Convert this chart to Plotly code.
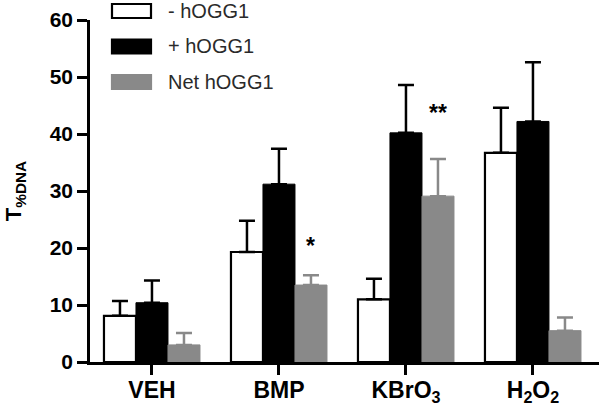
import plotly.graph_objects as go

# data
groups = ["VEH", "BMP", "KBrO<sub>3</sub>", "H<sub>2</sub>O<sub>2</sub>"]
minus_hogg1 = [8.1, 19.3, 11.0, 36.7]
minus_hogg1_err = [2.6, 5.5, 3.6, 7.9]
plus_hogg1 = [10.4, 31.2, 40.2, 42.2]
plus_hogg1_err = [3.9, 6.2, 8.4, 10.4]
net_hogg1 = [3.0, 13.5, 29.1, 5.5]
net_hogg1_err = [2.1, 1.7, 6.5, 2.3]
stars = {1: "*", 2: "**"}
star_heights = {1: 20.3, 2: 43.6}

GRAY = "#898989"
FONT = "Liberation Sans"

# plot area in pixels (for the hand-drawn legend)
L, R, T, B = 90, 599, 20, 362


def px_to_paper(x, y):
    return (x - L) / (R - L), (B - y) / (B - T)


xs = list(range(len(groups)))

fig = go.Figure()

fig.add_trace(go.Bar(
    x=xs, y=minus_hogg1, name="- hOGG1",
    marker=dict(color="white", line=dict(color="black", width=2.2)),
    error_y=dict(type="data", symmetric=False, array=minus_hogg1_err,
                 arrayminus=[0] * 4, color="black", thickness=2.5, width=8)))

fig.add_trace(go.Bar(
    x=xs, y=plus_hogg1, name="+ hOGG1",
    marker=dict(color="black", line=dict(color="black", width=1)),
    error_y=dict(type="data", symmetric=False, array=plus_hogg1_err,
                 arrayminus=[0] * 4, color="black", thickness=2.5, width=8)))

fig.add_trace(go.Bar(
    x=xs, y=net_hogg1, name="Net hOGG1",
    marker=dict(color=GRAY, line=dict(color=GRAY, width=1)),
    error_y=dict(type="data", symmetric=False, array=net_hogg1_err,
                 arrayminus=[0] * 4, color=GRAY, thickness=2.5, width=8)))

# significance marks above the net bars
for i, s in stars.items():
    fig.add_annotation(x=i + 0.252, y=star_heights[i], text="<b>%s</b>" % s,
                       showarrow=False, font=dict(family=FONT, size=23, color="black"),
                       yanchor="middle")

# legend drawn by hand, big boxes like the original
legend_rows = [("- hOGG1", "white", "black"),
               ("+ hOGG1", "black", "black"),
               ("Net hOGG1", GRAY, GRAY)]
for k, (label, fill, edge) in enumerate(legend_rows):
    yc = 11 + k * 35.5
    x0, y0 = px_to_paper(112, yc + 7)
    x1, y1 = px_to_paper(151, yc - 7)
    fig.add_shape(type="rect", xref="paper", yref="paper",
                  x0=x0, y0=y0, x1=x1, y1=y1,
                  fillcolor=fill, line=dict(color=edge, width=2.2))
    tx, ty = px_to_paper(166, yc)
    fig.add_annotation(xref="paper", yref="paper", x=tx, y=ty, text=label,
                       showarrow=False, xanchor="left", yanchor="middle",
                       font=dict(family=FONT, size=20, color="#2a2a2a"))

fig.update_layout(
    width=601, height=406,
    margin=dict(l=L, r=601 - R, t=T, b=406 - B),
    paper_bgcolor="white", plot_bgcolor="white",
    barmode="group", bargap=0.244, bargroupgap=0,
    showlegend=False,
    xaxis=dict(range=[-0.488, 3.52], tickmode="array", tickvals=xs, ticktext=groups,
               showline=True, linecolor="black", linewidth=2.5,
               ticks="outside", ticklen=10, tickwidth=2.5, tickcolor="black",
               showgrid=False, zeroline=False, automargin=False,
               ticklabelstandoff=-4,
               tickfont=dict(family=FONT, size=23, color="black", weight="bold")),
    yaxis=dict(range=[0, 60], tickvals=[0, 10, 20, 30, 40, 50, 60],
               showline=True, linecolor="black", linewidth=2.5,
               ticks="outside", ticklen=10, tickwidth=2.5, tickcolor="black",
               showgrid=False, zeroline=False, automargin=False,
               tickfont=dict(family=FONT, size=21, color="black", weight="bold"),
               title=dict(text="T<sub>%DNA</sub>", standoff=22,
                          font=dict(family=FONT, size=22, color="black", weight="bold"))),
)

# the page body has an 8px margin by default; drop it so the chart fills the window
fig.write_html("out.html", config={"displayModeBar": False},
               post_script="document.body.style.margin='0';")
